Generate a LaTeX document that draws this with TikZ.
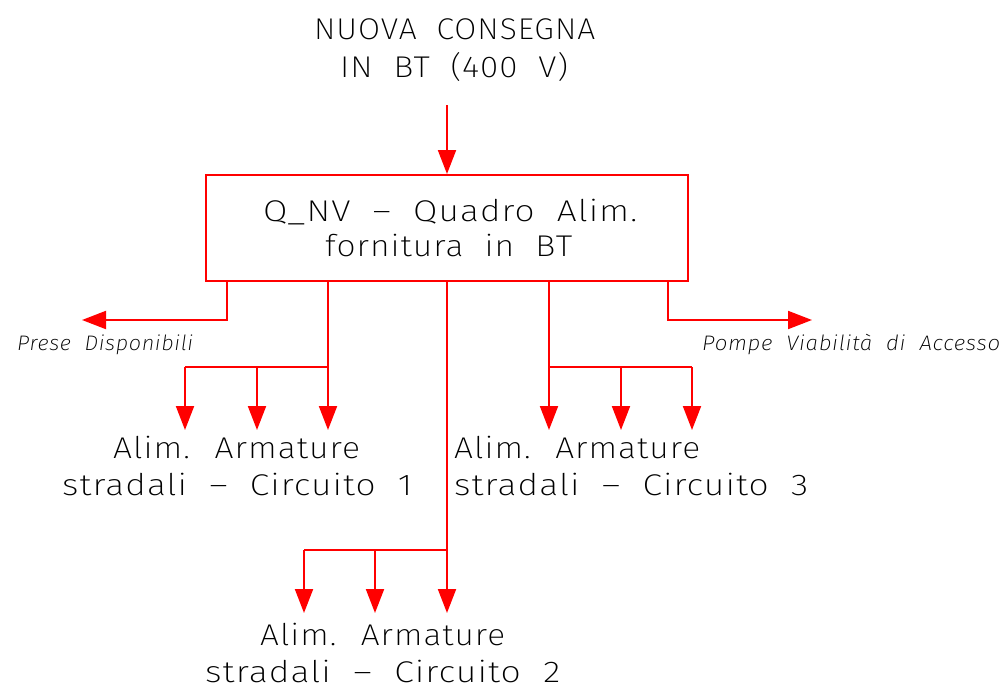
\documentclass[tikz,border=0pt]{standalone}
\usepackage{fontspec}
\usepackage{graphicx}
\setmainfont{Fira Sans ExtraLight}[ItalicFont={Fira Sans ExtraLight Italic},LetterSpace=3,WordSpace=2]
\usetikzlibrary{arrows.meta}
\newcommand\fitw[2]{\resizebox{#1pt}{\height}{#2}}
\begin{document}
\begin{tikzpicture}[x=1pt,y=-1pt,
  wire/.style={draw=red,line width=2pt},
  arr/.style={wire,-{Triangle[length=24pt,width=18pt]}},
  big/.style={inner sep=0pt,anchor=base west,font=\fontsize{30}{36}\selectfont},
  small/.style={inner sep=0pt,anchor=base west,font=\fontsize{21}{25}\selectfont\itshape},
  boxst/.style={draw=red,line width=2pt,minimum width=482pt,minimum height=106pt,inner sep=0pt}]
\useasboundingbox (0,0) rectangle (1005,688);
% title
\node[big] (t1) at (314,39) {\fitw{281}{NUOVA CONSEGNA}};
\node[big] (t2) at (340,77) {\fitw{228}{IN BT (400 V)}};
% main box
\node[boxst] (qnv) at (447,228) {};
\node[big] (q1) at (263,221) {\fitw{374}{Q\_NV – Quadro Alim.}};
\node[big] (q2) at (325,256) {\fitw{247}{fornitura in BT}};
% incoming
\coordinate (in) at (447,105);
\draw[arr] (in) -- (qnv.north);
% branch points on the box
\coordinate (b1) at (227,281);
\coordinate (b2) at (328,281);
\coordinate (b3) at (447,281);
\coordinate (b4) at (549,281);
\coordinate (b5) at (668,281);
% side outputs
\coordinate (pd) at (82,320);
\coordinate (pv) at (812,320);
\draw[arr] (b1) |- (pd);
\draw[arr] (b5) |- (pv);
\node[small] (lpd) at (17,350) {\fitw{176}{Prese Disponibili}};
\node[small] (lpv) at (702,350) {\fitw{298}{Pompe Viabilità di Accesso}};
% circuit 1
\coordinate (j1) at (328,367);
\coordinate (j1a) at (185,367);
\coordinate (j1b) at (257,367);
\draw[wire] (b2) -- (j1);
\draw[wire] (j1) -- (j1a);
\coordinate (e1a) at (185,430);
\coordinate (e1b) at (257,430);
\coordinate (e1c) at (328,430);
\draw[arr] (j1a) -- (e1a);
\draw[arr] (j1b) -- (e1b);
\draw[arr] (j1) -- (e1c);
\node[big] (c1a) at (113,458) {\fitw{247}{Alim. Armature}};
\node[big] (c1b) at (62,495) {\fitw{350}{stradali – Circuito 1}};
% circuit 3
\coordinate (j3) at (549,367);
\coordinate (j3b) at (621,367);
\coordinate (j3c) at (692,367);
\draw[wire] (b4) -- (j3);
\draw[wire] (j3) -- (j3c);
\coordinate (e3a) at (549,430);
\coordinate (e3b) at (621,430);
\coordinate (e3c) at (692,430);
\draw[arr] (j3) -- (e3a);
\draw[arr] (j3b) -- (e3b);
\draw[arr] (j3c) -- (e3c);
\node[big] (c3a) at (454,458) {\fitw{246}{Alim. Armature}};
\node[big] (c3b) at (454,495) {\fitw{354}{stradali – Circuito 3}};
% circuit 2
\coordinate (j2) at (447,550);
\coordinate (j2a) at (304,550);
\coordinate (j2b) at (375,550);
\draw[wire] (j2) -- (j2a);
\coordinate (e2a) at (304,613);
\coordinate (e2b) at (375,613);
\coordinate (e2c) at (447,613);
\draw[arr] (b3) -- (e2c);
\draw[arr] (j2a) -- (e2a);
\draw[arr] (j2b) -- (e2b);
\node[big] (c2a) at (260,645) {\fitw{245}{Alim. Armature}};
\node[big] (c2b) at (205,682) {\fitw{355}{stradali – Circuito 2}};
\end{tikzpicture}
\end{document}
